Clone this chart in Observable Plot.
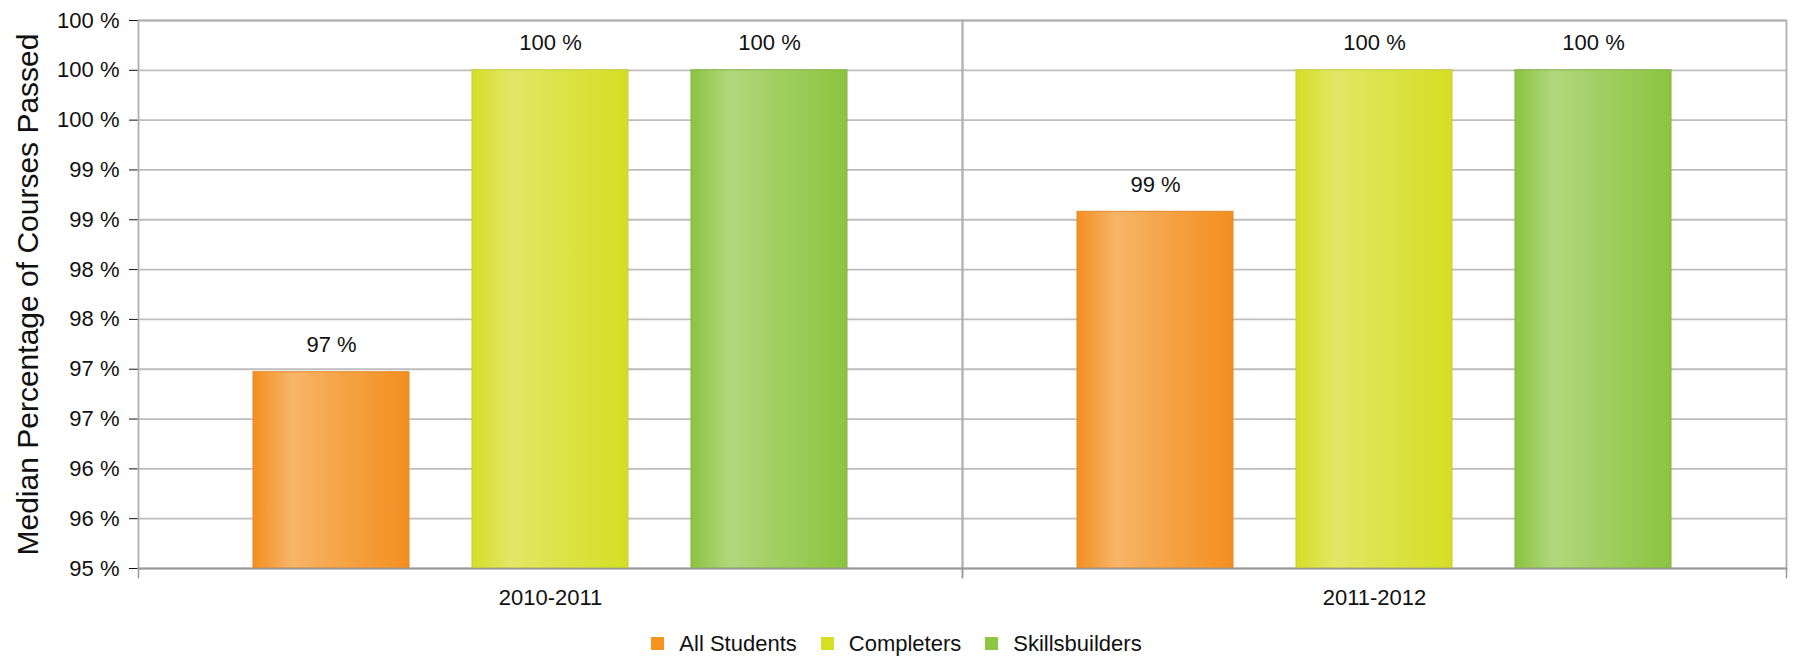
<!DOCTYPE html>
<html><head><meta charset="utf-8">
<script src="https://cdn.jsdelivr.net/npm/d3@7"></script>
<script src="https://cdn.jsdelivr.net/npm/@observablehq/plot@0.6"></script>
<style>
body{margin:0;background:#fff;font-family:"Liberation Sans",Arial,sans-serif;}
#chart svg{display:block}
g[aria-label="y-axis label"]{font-size:30px}
g[aria-label="y-axis tick"]{stroke:#9a9a9a}
#legend{display:flex;justify-content:center;align-items:center;height:27px;font-size:22px;color:#111;}
.item{display:flex;align-items:center;margin:0 12px;}
.sw{width:13px;height:13px;margin-right:15px}
</style></head><body>
<svg width="0" height="0" style="position:absolute"><defs id="defs"></defs></svg>
<div id="chart"></div><div id="legend"></div>
<script>
const years = ["2010-2011", "2011-2012"];
const seriesNames = ["All Students", "Completers", "Skillsbuilders"];
const allStudents = [96.97, 98.58];
const completers = [100, 100];
const skillsbuilders = [100, 100];
const yTicks = [95, 95.5, 96, 96.5, 97, 97.5, 98, 98.5, 99, 99.5, 100, 100.5];
const yTickLabels = ["95 %","96 %","96 %","97 %","97 %","98 %","98 %","99 %","99 %","100 %","100 %","100 %"];
const yTitle = "Median Percentage of Courses Passed";
const swatchColors = ["#f7941d", "#d7df23", "#8dc63f"];
const gradEdge = ["#f38f1f", "#d5de25", "#8cc440"];
const gradLight = ["#f7b568", "#e1e766", "#b1d77d"];
const strokeColors = ["#e38a2c", "#c6cf2c", "#80b63c"];

const seriesValues = [allStudents, completers, skillsbuilders];
const table = [];
years.forEach((y, yi) => seriesNames.forEach((s, si) => table.push({year: y, series: s, value: seriesValues[si][yi]})));

// gradients
const defs = d3.select("#defs");
seriesNames.forEach((s, i) => {
  const g = defs.append("linearGradient").attr("id", "grad" + i).attr("x1", "0").attr("x2", "1").attr("y1", "0").attr("y2", "0");
  [[0, gradEdge[i]], [0.25, gradLight[i]], [0.6, d3.interpolateRgb(gradLight[i], gradEdge[i])(0.5)], [1, gradEdge[i]]]
    .forEach(([o, c]) => g.append("stop").attr("offset", o).attr("stop-color", c));
});

const plot = Plot.plot({
  width: 1793, height: 630,
  marginTop: 20, marginBottom: 62, marginLeft: 137, marginRight: 7,
  style: {fontFamily: "'Liberation Sans', Arial, sans-serif", fontSize: "22px", color: "#111", background: "#fff"},
  fx: {domain: years, padding: 0, axis: "bottom", label: null, tickSize: 0, tickPadding: 21},
  x: {domain: seriesNames, axis: null, paddingInner: 0.2865, paddingOuter: 0.518},
  y: {domain: [95, 100.5], ticks: yTicks, tickFormat: d => yTickLabels[yTicks.indexOf(d)], tickSize: 9, tickPadding: 10,
      label: yTitle, labelAnchor: "center", labelArrow: "none", labelOffset: 122},
  marks: [
    Plot.ruleY(yTicks, {stroke: "#bdbdbd", strokeWidth: 1.8}),
    Plot.frame({stroke: "#b0b0b0", strokeWidth: 1.8}),
    ...seriesNames.map((s, i) => Plot.barY(table.filter(d => d.series === s), {
      fx: "year", x: "series", y1: 95, y2: "value", fill: `url(#grad${i})`, stroke: strokeColors[i], strokeWidth: 1
    })),
    Plot.text(table, {fx: "year", x: "series", y: "value", text: d => Math.round(d.value) + " %", dy: -20, lineAnchor: "bottom", fontSize: 22, fill: "#111"}),
    Plot.frame({anchor: "left", insetTop: 548, insetBottom: -9, stroke: "#9a9a9a", strokeWidth: 1.5}),
    Plot.frame({anchor: "right", insetTop: 548, insetBottom: -9, stroke: "#9a9a9a", strokeWidth: 1.5}),
    Plot.frame({anchor: "bottom", stroke: "#9a9a9a", strokeWidth: 1.5})
  ]
});
document.getElementById("chart").appendChild(plot);

const legend = d3.select("#legend");
seriesNames.forEach((s, i) => {
  const it = legend.append("div").attr("class", "item");
  it.append("div").attr("class", "sw").style("background", swatchColors[i]);
  it.append("span").text(s);
});
</script>
</body></html>
